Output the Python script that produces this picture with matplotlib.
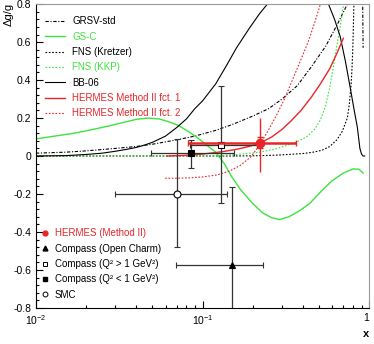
import matplotlib
matplotlib.use("Agg")
import matplotlib.pyplot as plt
from matplotlib.lines import Line2D
from matplotlib.ticker import FixedLocator, AutoMinorLocator, LogLocator, NullFormatter
import numpy as np

plt.rcParams['font.family'] = ['Liberation Sans', 'DejaVu Sans']
plt.rcParams['mathtext.fontset'] = 'custom'
plt.rcParams['mathtext.rm'] = 'Liberation Sans'

GREEN = '#3ee23e'
RED = '#e8262a'
GRAY = '#333333'

# theory curves
grsv_x = [0.01, 0.015, 0.02, 0.03, 0.04, 0.05, 0.07, 0.09, 0.12, 0.15, 0.2, 0.25, 0.3,
          0.37, 0.45, 0.55, 0.65, 0.74, 0.8, 0.87, 0.91, 0.92]
grsv_y = [0.015, 0.02, 0.027, 0.04, 0.05, 0.062, 0.085, 0.105, 0.135, 0.165, 0.21, 0.25, 0.3,
          0.37, 0.47, 0.58, 0.7, 0.8, 0.9, 1.0, 1.0, 0.57]

gsc_x = [0.01, 0.013, 0.017, 0.022, 0.028, 0.034, 0.04, 0.047, 0.055, 0.063, 0.072, 0.082,
         0.092, 0.105, 0.12, 0.135, 0.15, 0.17, 0.2, 0.23, 0.26, 0.29, 0.33, 0.38, 0.44,
         0.51, 0.6, 0.7, 0.8, 0.87, 0.92]
gsc_y = [0.09, 0.105, 0.12, 0.14, 0.16, 0.178, 0.193, 0.2, 0.195, 0.18, 0.16, 0.13,
         0.10, 0.06, 0.02, -0.04, -0.11, -0.18, -0.25, -0.30, -0.325, -0.335, -0.32, -0.29, -0.25,
         -0.19, -0.13, -0.09, -0.068, -0.07, -0.09]

kretzer_x = [0.01, 0.15, 0.2, 0.25, 0.3, 0.4, 0.46, 0.52, 0.58, 0.64, 0.69, 0.74, 0.76,
             0.78, 0.79, 0.8, 0.81, 0.82]
kretzer_y = [0.0, 0.0, 0.001, 0.003, 0.006, 0.013, 0.02, 0.03, 0.05, 0.085, 0.13, 0.2, 0.27,
             0.38, 0.47, 0.6, 0.8, 1.0]

kkp_x = [0.01, 0.1, 0.13, 0.17, 0.22, 0.27, 0.32, 0.37, 0.42, 0.47, 0.51, 0.55, 0.58,
         0.61, 0.64, 0.67, 0.7, 0.72]
kkp_y = [0.0, 0.0, 0.003, 0.01, 0.02, 0.035, 0.055, 0.075, 0.1, 0.14, 0.19, 0.27, 0.36,
         0.47, 0.58, 0.68, 0.79, 0.9]

bb_x = [0.01, 0.015, 0.02, 0.025, 0.03, 0.035, 0.04, 0.045, 0.05, 0.06, 0.07, 0.08, 0.09,
        0.1, 0.12, 0.14, 0.16, 0.19, 0.22, 0.245, 0.3, 0.4, 0.5, 0.57, 0.62, 0.67, 0.72,
        0.77, 0.81, 0.85, 0.88, 0.9, 0.92, 0.94]
bb_y = [0.0, 0.002, 0.008, 0.015, 0.025, 0.035, 0.045, 0.058, 0.072, 0.105, 0.15, 0.195, 0.25,
        0.29, 0.38, 0.48, 0.57, 0.67, 0.75, 0.8, 0.9, 0.96, 0.9, 0.8, 0.72, 0.63, 0.5,
        0.36, 0.25, 0.15, 0.04, 0.01, 0.0, 0.0]

fct1_x = [0.0612, 0.08, 0.1, 0.13, 0.16, 0.19, 0.221, 0.26, 0.3, 0.34, 0.39, 0.45, 0.51,
          0.58, 0.64, 0.7]
fct1_y = [0.0, 0.004, 0.01, 0.022, 0.035, 0.05, 0.068, 0.1, 0.14, 0.185, 0.24, 0.31, 0.38,
          0.46, 0.54, 0.62]

fct2_x = [0.0596, 0.07, 0.084, 0.1, 0.122, 0.145, 0.168, 0.195, 0.221, 0.25, 0.28, 0.314,
          0.35, 0.386, 0.43, 0.47, 0.51, 0.6]
fct2_y = [-0.117, -0.117, -0.115, -0.11, -0.1, -0.08, -0.05, -0.005, 0.06, 0.14, 0.22, 0.31,
          0.41, 0.5, 0.6, 0.7, 0.8, 1.0]

# measurements: value, x range, y range
hermes = dict(x=0.221, y=0.068, xlo=0.082, xhi=0.365, ylo=-0.084, yhi=0.2, slo=0.04, shi=0.10)
charm = dict(x=0.150, y=-0.574, xlo=0.069, xhi=0.231, ylo=-1.0, yhi=-0.163)
q2_hi = dict(x=0.129, y=0.058, xlo=0.084, xhi=0.212, ylo=-0.25, yhi=0.37)
q2_lo = dict(x=0.085, y=0.016, xlo=0.049, xhi=0.154, ylo=-0.063, yhi=0.084)
smc = dict(x=0.070, y=-0.20, xlo=0.030, xhi=0.14, ylo=-0.48, yhi=0.09)

y_ticks = [-0.8, -0.6, -0.4, -0.2, 0, 0.2, 0.4, 0.6, 0.8]
y_labels = ['-0.8', '-0.6', '-0.4', '-0.2', '0', '0.2', '0.4', '0.6', '0.8']
x_ticks = [0.01, 0.1, 1]
x_labels = ['$10^{-2}$', '$10^{-1}$', '1']


def errs(p, lo, hi, key):
    v = p[key]
    return [[v - p[lo]], [p[hi] - v]]


fig = plt.figure(figsize=(3.74, 3.44), dpi=100)
ax = fig.add_axes([0.096, 0.105, 0.891, 0.883])

l1, = ax.plot(grsv_x, grsv_y, color='black', lw=0.8, dashes=(3, 1.5, 1, 1.5))
l2, = ax.plot(gsc_x, gsc_y, color=GREEN, lw=1.0)
l3, = ax.plot(kretzer_x, kretzer_y, color='black', lw=0.8, dashes=(1.5, 1.5))
l4, = ax.plot(kkp_x, kkp_y, color=GREEN, lw=0.8, dashes=(1.5, 1.5))
l5, = ax.plot(bb_x, bb_y, color='black', lw=0.8)
l6, = ax.plot(fct1_x, fct1_y, color=RED, lw=1.0)
l7, = ax.plot(fct2_x, fct2_y, color=RED, lw=0.8, dashes=(1.5, 1.5))

# data points
for p, mk, fc, ms in [(smc, 'o', 'white', 5), (q2_lo, 's', 'black', 4.5),
                      (q2_hi, 's', 'white', 5), (charm, '^', 'black', 4)]:
    ax.errorbar(p['x'], p['y'], xerr=errs(p, 'xlo', 'xhi', 'x'), yerr=errs(p, 'ylo', 'yhi', 'y'),
                fmt=mk, mfc=fc, mec='black', ms=ms, mew=0.8, color=GRAY, lw=0.9,
                capsize=2, capthick=0.9, zorder=4)

ax.errorbar(hermes['x'], hermes['y'], xerr=errs(hermes, 'xlo', 'xhi', 'x'),
            fmt='none', color=RED, lw=1.8, capsize=2.5, capthick=1, zorder=5)
ax.errorbar(hermes['x'], hermes['y'], yerr=errs(hermes, 'ylo', 'yhi', 'y'),
            fmt='none', color=RED, lw=1.0, zorder=5)
ax.errorbar(hermes['x'], hermes['y'], yerr=errs(hermes, 'slo', 'shi', 'y'),
            fmt='o', color=RED, ms=6, lw=1.0, capsize=2.5, capthick=1, zorder=6)

ax.set_xscale('log')
ax.set_xlim(0.01, 1)
ax.set_ylim(-0.8, 0.8)
ax.xaxis.set_major_locator(FixedLocator(x_ticks))
ax.set_xticklabels(x_labels)
ax.xaxis.set_minor_locator(LogLocator(base=10, subs=np.arange(2, 10)))
ax.xaxis.set_minor_formatter(NullFormatter())
ax.yaxis.set_major_locator(FixedLocator(y_ticks))
ax.set_yticklabels(y_labels)
ax.yaxis.set_minor_locator(AutoMinorLocator(5))
ax.tick_params(which='both', direction='in', labelsize=7.5, top=False, right=False, width=0.8)
ax.tick_params(which='major', length=5)
ax.tick_params(which='minor', length=2.5)
ax.get_xticklabels()[-1].set_horizontalalignment('right')
for s in ax.spines.values():
    s.set_linewidth(0.8)
ax.spines['top'].set_color('#999999')
ax.spines['right'].set_color('#999999')

ax.set_ylabel('Δg/g', fontsize=8, loc='top')
ax.yaxis.set_label_coords(-0.066, 1.005)
ax.set_xlabel('x', fontsize=8, loc='right', fontweight='bold')
ax.xaxis.set_label_coords(1.0, -0.07)

leg1 = ax.legend([l1, l2, l3, l4, l5, l6, l7],
                 ['GRSV-std', 'GS-C', 'FNS (Kretzer)', 'FNS (KKP)', 'BB-06',
                  'HERMES Method II fct. 1', 'HERMES Method II fct. 2'],
                 labelcolor=['black', GREEN, 'black', GREEN, 'black', RED, RED],
                 loc='upper left', bbox_to_anchor=(0.027, 0.96), frameon=False,
                 fontsize=7, handlelength=2.1, handletextpad=0.7, labelspacing=0.55,
                 borderpad=0, borderaxespad=0)
ax.add_artist(leg1)

h = [Line2D([], [], ls='none', marker='o', color=RED, ms=3.5),
     Line2D([], [], ls='none', marker='^', color='black', ms=3.5),
     Line2D([], [], ls='none', marker='s', mfc='white', mec='black', ms=3.5, mew=0.7),
     Line2D([], [], ls='none', marker='s', color='black', ms=3.5),
     Line2D([], [], ls='none', marker='o', mfc='white', mec='black', ms=3.5, mew=0.7)]
ax.legend(h, ['HERMES (Method II)', 'Compass (Open Charm)', 'Compass (Q² > 1 GeV²)',
              'Compass (Q² < 1 GeV²)', 'SMC'],
          labelcolor=[RED, 'black', 'black', 'black', 'black'],
          loc='upper left', bbox_to_anchor=(0.015, 0.262), frameon=False,
          fontsize=7, handlelength=0.8, handletextpad=0.6, labelspacing=0.55,
          borderpad=0, borderaxespad=0)

fig.savefig('out.png', dpi=100)
